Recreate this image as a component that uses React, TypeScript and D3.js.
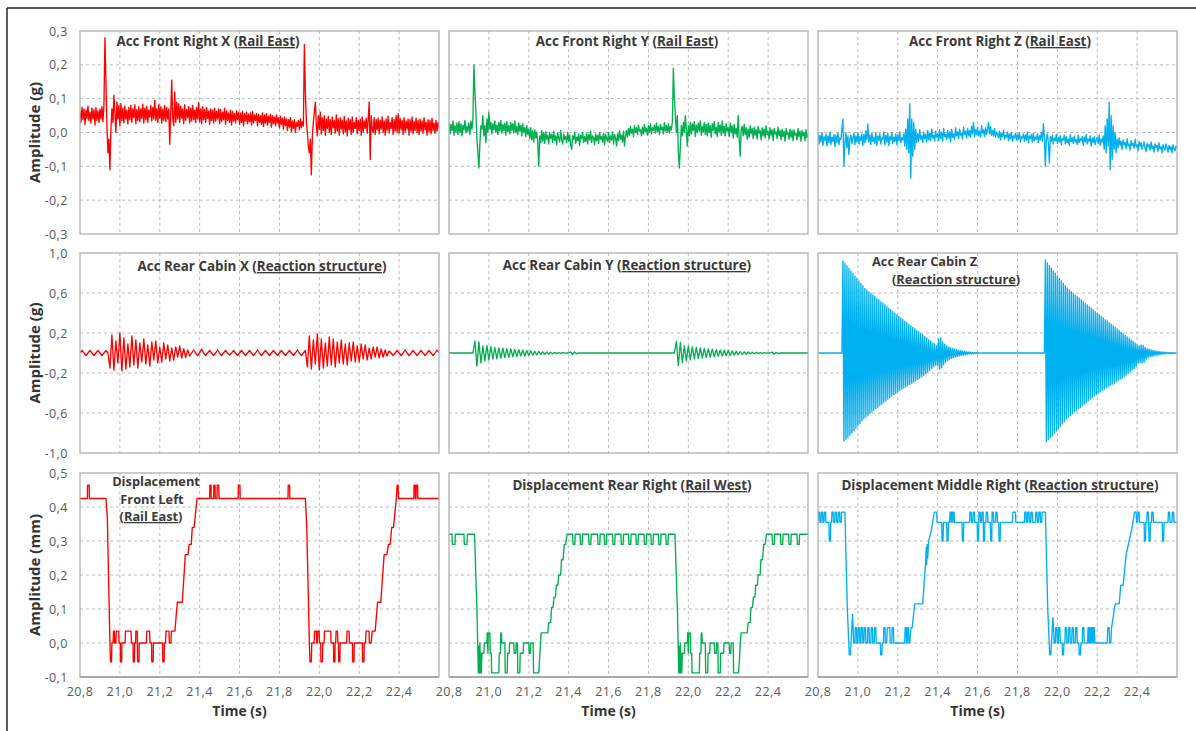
import React from 'react';
import * as d3 from 'd3';

// ================= DATA =================
const SAMPLE_START = 20.8; // s, first acceleration sample
const STEP_FINE = 0.005; // s, sample spacing of the densely plotted accelerometers
const STEP_COARSE = 0.01; // s, sample spacing of the rear-cabin X / Y accelerometers

const xDomain: [number, number] = [20.8, 22.6];
const xTickValues = [20.8, 21.0, 21.2, 21.4, 21.6, 21.8, 22.0, 22.2, 22.4];
const xTickLabels = ['20,8', '21,0', '21,2', '21,4', '21,6', '21,8', '22,0', '22,2', '22,4'];

const yTicksAccFront = [0.3, 0.2, 0.1, 0, -0.1, -0.2, -0.3];
const yLabelsAccFront = ['0,3', '0,2', '0,1', '0,0', '-0,1', '-0,2', '-0,3'];
const yTicksAccRear = [1, 0.6, 0.2, -0.2, -0.6, -1];
const yLabelsAccRear = ['1,0', '0,6', '0,2', '-0,2', '-0,6', '-1,0'];
const yTicksDisp = [0.5, 0.4, 0.3, 0.2, 0.1, 0, -0.1];
const yLabelsDisp = ['0,5', '0,4', '0,3', '0,2', '0,1', '0,0', '-0,1'];

// Front-right accelerations in milli-g, one sample every 0.005 s from 20.80 s
const accFrontRightX = [
  62, 30, 75, 38, 70, 24, 66, 42, 78, 35, 60, 28, 72, 40, 68, 22, 74, 36, 64, 30,
  70, 40, 76, 32, 80, 280, 150, 20, -60, -20, -110, 10, 70, 30, 110, 60, 0, 90, 40, 80,
  20, 85, 35, 72, 28, 78, 40, 66, 25, 74, 38, 80, 30, 70, 44, 82, 26, 68, 36, 76,
  32, 70, 42, 84, 28, 72, 38, 78, 30, 66, 46, 80, 34, 74, 40, 95, 36, 70, 30, 82,
  42, 76, 28, 70, 36, 80, 32, 74, 40, 70, -35, 60, 155, 40, 20, 120, 30, 90, 40, 85,
  30, 78, 42, 70, 26, 82, 36, 68, 44, 76, 28, 72, 34, 80, 38, 66, 30, 74, 40, 88,
  32, 70, 26, 76, 38, 68, 30, 74, 42, 64, 24, 70, 36, 66, 28, 72, 34, 62, 40, 70,
  26, 68, 32, 60, 38, 72, 24, 64, 36, 58, 30, 66, 22, 62, 34, 56, 28, 64, 38, 60,
  24, 58, 30, 62, 20, 56, 34, 60, 26, 54, 32, 58, 22, 62, 28, 52, 36, 56, 20, 54,
  30, 50, 24, 58, 18, 52, 28, 56, 22, 48, 30, 54, 16, 50, 26, 46, 20, 52, 28, 44,
  14, 48, 24, 42, 10, 46, 20, 40, 6, 38, 16, 44, 2, 34, 12, 38, 0, 30, 18, 36,
  8, 40, 14, 32, 20, 260, 120, 30, 0, -40, -60, -20, -125, -10, 30, 60, 90, 20, -10, 50,
  10, 60, -5, 44, 6, 50, -8, 40, 12, 48, 0, 38, -6, 46, 14, 36, -2, 52, 4, 40,
  -8, 44, 10, 36, -4, 48, 2, 34, -10, 42, 8, 38, -6, 46, 0, 30, 12, 44, -4, 36,
  6, 40, -8, 46, 2, 34, 12, 42, -2, 40, 90, -80, 50, 10, 0, 44, -6, 38, 8, 42,
  -4, 36, 10, 46, 0, 34, -8, 40, 6, 48, -2, 30, 12, 44, -6, 38, 4, 50, 0, 55,
  -2, 42, 8, 36, -6, 44, 2, 34, 10, 40, -8, 38, 4, 46, -4, 32, 6, 42, 0, 36,
  -6, 40, 4, 34, -2, 44, 8, 30, -8, 38, 2, 36, -4, 42, 6, 28, -2, 36, 4, 30, 14,
];

const accFrontRightY = [
  30, -4, 24, 6, 34, -8, 20, 2, 28, -6, 32, 0, 26, -10, 22, 8, 36, -2, 18, 4,
  28, -6, 34, 10, 40, 200, 120, 60, -20, -60, -105, -30, 20, 10, 50, -10, 20, -30, 40, 0,
  60, 10, 30, -4, 26, 8, 34, 0, 22, -6, 30, 4, 36, -2, 24, 6, 28, -8, 32, 2,
  20, -4, 30, 6, 26, -2, 34, 0, 18, -6, 28, 4, 22, -10, 26, 0, 14, -12, 20, -6,
  10, -18, 14, -22, 6, -28, 8, -16, 2, -30, -100, -10, -30, 6, -26, 0, -32, 2, -20, -8,
  -34, 0, -18, -6, -30, 4, -24, -10, -36, -2, -16, -28, 6, -22, -34, -4, -20, -12, -30, 0,
  -26, -8, -36, -50, -10, -20, 2, -32, -14, -24, -4, -38, -8, -18, 0, -30, -12, -26, -2, -34,
  -6, -22, 4, -30, -10, -16, -36, -4, -24, -8, -32, 0, -20, -12, -28, -2, -36, -6, -18, -26,
  0, -30, -10, -22, 2, -34, -6, -16, -40, -4, -24, 6, -20, -8, -28, 4, -40, -10, 6, -14,
  12, -8, 18, -2, 10, -12, 20, 0, 14, -6, 22, 4, 8, -10, 16, -4, 24, 2, 12, -8,
  20, 0, 26, -4, 14, 6, 22, -2, 28, 2, 18, -6, 24, 8, 16, -4, 30, 4, 20, 0,
  26, -2, 18, 8, 32, 190, 100, 50, 0, 50, -60, -105, -40, 20, -10, 30, 0, 50, 10, -40,
  20, -10, 30, -4, 26, 6, 32, -12, 22, 0, 28, 4, 34, -8, 18, 2, 30, -6, 24, -10,
  28, 0, 20, -14, 26, 6, 32, -4, 16, -12, 30, 2, 22, -8, 34, -2, 18, -10, 26, 4,
  14, -12, 28, 0, 20, -16, 24, -4, 12, -14, 50, -20, -70, 10, 18, -10, 24, -6, 14, -20,
  10, -14, 20, -4, 12, -18, 16, -8, 8, -20, 18, -2, 6, -22, 14, -10, 10, -16, 20, -6,
  4, -20, 14, -8, 8, -24, 12, -4, 2, -18, 16, -10, 6, -22, 10, -12, 4, -26, 12, -6,
  0, -20, 10, -14, 6, -24, 8, -8, -2, -22, 12, -12, 4, -26, 6, -10, 0, -24, 8, -16, -4,
];

const accFrontRightZ = [
  -2, -34, -8, -28, 0, -38, -12, -24, -4, -40, -10, -30, 2, -36, -14, -26, -6, -42, -8, -30,
  -2, -36, -16, -20, 10, 40, -100, -30, 0, -45, -10, -65, -20, -8, -32, -14, -2, -36, -10, -28,
  0, -34, -12, -24, -4, -38, -6, -30, 5, -22, 25, -28, -8, -36, -2, -26, -14, -32, 0, -38,
  -10, -24, -4, -34, -16, -20, 2, -36, -8, -28, -2, -38, -12, -22, 0, -32, -14, -26, -4, -36,
  -8, -24, 2, -30, -16, -22, -4, -40, 10, -50, 40, -60, 85, -135, 40, -70, 30, -50, 10, -30,
  -4, -26, 8, -20, -10, -30, 2, -18, -6, -28, 6, -22, -2, -24, 10, -16, -8, -26, 4, -14,
  -4, -24, 8, -18, 0, -26, 12, -12, -6, -22, 6, -16, 2, -28, 10, -14, -4, -20, 14, -10,
  2, -18, 10, -8, -2, -20, 16, -6, 4, -16, 12, -10, 6, -14, 18, -4, 30, -12, 8, -6,
  16, -10, 4, -14, 20, -2, 8, -12, 14, -6, 10, 30, -4, 18, -8, 6, -10, 12, -14, 2,
  -6, -16, 4, -22, -2, -12, 6, -20, -8, -14, 2, -24, -4, -18, 0, -26, -10, -16, -2, -22,
  -6, -20, 0, -28, -12, -16, -4, -26, -8, -22, 2, -30, -10, -18, -6, -28, -2, -24, -14, -20,
  -4, -30, -10, -22, 0, -26, 25, -10, -100, -20, -4, -30, -90, -12, -26, -8, -34, -16, -24, -6,
  -32, -14, -28, -10, -36, -18, -22, -8, -34, -12, -30, -20, -38, -6, -26, -16, -32, -10, -28, -22,
  -36, -8, -30, -18, -24, -12, -38, -14, -28, -6, -34, -20, -26, -10, -40, -16, -30, -12, -36, -22,
  -14, -32, -8, -38, -20, -28, -10, -50, 20, -60, 40, -40, 90, -110, 50, -80, 20, -50, 0, -60,
  -20, -45, -15, -38, -26, -50, -22, -36, -30, -48, -18, -40, -34, -52, -24, -38, -32, -46, -20, -42,
  -36, -54, -26, -40, -30, -50, -38, -28, -46, -56, -32, -42, -36, -52, -28, -48, -40, -58, -34, -44,
  -38, -56, -30, -48, -42, -60, -36, -46, -52, -34, -44, -58, -38, -50, -42, -60, -36, -48, -54, -40, -46,
];

// Rear-cabin X / Y accelerations in milli-g, one sample every 0.01 s from 20.80 s
const accRearCabinX = [
  0, 25, 0, -25, 0, 25, 0, -25, 0, 25, 0, -25, 0, 25, 0,
  -150, 180, -170, 120, -100, 200, -180, 150, -160, 90,
  -140, 170, -120, 130, -150, 100, -90, 140, -110, 80,
  -130, 110, -70, 120, -100, 60, -90, 100, -60, 80,
  -80, 50, -70, 60, -40, 70, -50, 40, -45, 30, -30,
  0, 30, 0, -25, 0, 40, 0, -25, 0, 25, 0, -25, 0, 30,
  0, -25, 0, 25, 0, -20, 0, 25, 0, -25, 0, 25, 0, -25,
  0, 25, 0, -25, 0, 30, 0, -25, 0, 25, 0, -25, 0, 25,
  0, -25, 0, 25, 0, -25, 0, 25, 0, -25, 0, 30, 0, -25, 0, 25,
  -140, 170, -160, 130, -110, 190, -170, 140, -150, 100,
  -130, 160, -120, 140, -140, 110, -100, 130, -110, 90,
  -120, 100, -80, 110, -90, 70, -90, 90, -60, 80,
  -70, 50, -60, 60, -40, 60, -50, 40, -40, 30, -30, 20,
  0, -25, 0, 25, 0, -25, 0, 30, 0, -25, 0, 25,
  0, -25, 0, 25, 0, -25, 0, 25, 0, -25, 0, 30, 0,
];

const accRearCabinY = [
  0, 0, 0, 0, 0, 0, 0, 0, 0, 0, 0, 0, 0,
  120, -130, 110, -100, 70, -80, 75, -70, 65, -60,
  55, -58, 50, -52, 48, -45, 42, -44, 40, -38,
  35, -36, 32, -30, 28, -30, 26, -25, 22, -22,
  18, -20, 16, -15, 12, -13, 10, -10, 8, -8,
  6, -6, 4, -4, 3, -2,
  0, 0, 12, -15, 10, -8, 0,
  0, 0, 0, 0, 0, 0, 0, 0, 0, 0, 0, 0, 0, 0, 0, 0,
  0, 0, 0, 0, 0, 0, 0, 0, 0, 0, 0, 0, 0, 0, 0, 0,
  0, 0, 0, 0, 0, 0, 0, 0, 0, 0, 0, 0, 0, 0, 0, 0,
  115, -125, 105, -95, 72, -78, 70, -68, 62, -60,
  56, -55, 50, -50, 46, -46, 42, -40, 38, -38,
  34, -34, 30, -30, 28, -27, 25, -24, 21, -21,
  18, -18, 15, -15, 12, -12, 10, -10, 8, -7,
  6, -6, 4, -4, 3, -2, 0,
  0, 10, -12, 8, -5, 0,
  0, 0, 0, 0, 0, 0, 0, 0, 0, 0, 0, 0, 0, 0,
];

// Rear-cabin Z acceleration in milli-g, one sample every 0.005 s from 20.80 s
const accRearCabinZ = [
  0, 0, 0, 0, 0, 0, 0, 0, 0, 0, 0, 0, 0, 0, 0, 0, 0, 0, 0, 0, 0, 0, 0, 0, 0,
  920, -880, 895, -862, 872, -845, 846, -822, 820, -800, 797, -776, 770, -752, 746, -728,
  721, -704, 696, -680, 672, -658, 646, -640,
  630, -622, 612, -606, 598, -590, 578, -574, 565, -558, 546, -542, 532, -526, 512, -510,
  499, -494, 480, -478, 466, -462, 447, -446, 433, -430, 414, -416, 400, -402, 381, -388, 366, -374,
  350, -362, 336, -350, 318, -338, 305, -326, 287, -314, 274, -302, 256, -290, 243, -278,
  225, -266, 212, -252, 194, -238, 181, -222, 163, -206, 150, -190, 132, -172, 119, -156, 100, -138,
  90, -122, 70, -128, 140, -160, 150, -148, 112, -118, 88, -92, 70, -74, 60, -62, 52, -54,
  45, -46, 40, -40, 34, -34, 28, -28, 24, -24, 20, -20, 16, -16, 13, -13, 10, -10, 8, -8,
  6, -6, 4, -4, 3, -3, 2, -2, 1, -1, 0, 0, 0, 0, 0, 0,
  0, 0, 0, 0, 0, 0, 0, 0, 0, 0, 0, 0, 0, 0, 0, 0, 0, 0, 0, 0,
  0, 0, 0, 0, 0, 0, 0, 0, 0, 0, 0, 0, 0, 0, 0, 0, 0, 0, 0, 0,
  0, 0, 0, 0, 0, 0, 0, 0, 0, 0, 0, 0, 0, 0, 0, 0, 0,
  930, -885, 900, -866, 874, -846, 850, -826, 822, -802, 798, -780, 772, -756, 748, -730,
  722, -706, 698, -684, 674, -660, 650, -642,
  632, -624, 614, -608, 596, -590, 580, -576, 562, -558, 548, -544, 530, -526, 514, -512,
  498, -494, 482, -480, 464, -462, 450, -448, 432, -432, 416, -418, 398, -402, 384, -390, 366, -374,
  352, -362, 334, -350, 320, -338, 302, -326, 288, -314, 270, -302, 256, -290, 240, -278,
  226, -266, 208, -252, 194, -238, 178, -222, 162, -206, 148, -190, 130, -172, 116, -156, 98, -138,
  82, -100, 70, -96, 80, -100, 76, -92, 56, -60, 44, -46, 38, -40, 32, -34, 26, -28, 22, -24,
  18, -20, 15, -16, 12, -13, 10, -10, 8, -8, 6, -6, 5, -5, 4, -4, 3, -3, 2, -2, 1,
];

// Displacement breakpoints: [time (s), displacement (mm)]
const dispFrontLeft: [number, number][] = [
  [20.8, 0.425], [20.837, 0.425], [20.838, 0.464], [20.846, 0.464], [20.847, 0.425],
  [20.93, 0.425], [20.937, 0.37], [20.95, 0], [20.953, -0.055], [20.958, -0.055], [20.96, 0],
  [20.966, 0], [20.968, 0.035], [20.972, 0.035], [20.974, 0], [20.98, 0], [20.982, 0.035],
  [20.994, 0.035], [20.996, 0], [21.002, 0], [21.003, -0.055], [21.009, -0.055], [21.01, 0],
  [21.026, 0], [21.028, 0.035], [21.056, 0.035], [21.058, 0], [21.066, 0], [21.067, -0.055],
  [21.073, -0.055], [21.074, 0], [21.079, 0], [21.08, 0.035], [21.087, 0.035], [21.089, -0.055],
  [21.096, -0.055], [21.097, 0], [21.133, 0], [21.135, 0.035], [21.149, 0.035], [21.151, 0],
  [21.159, 0], [21.16, -0.055], [21.167, -0.055], [21.168, 0], [21.214, 0], [21.215, -0.055],
  [21.222, -0.055], [21.223, 0], [21.229, 0], [21.231, 0.035], [21.246, 0.035], [21.248, 0],
  [21.256, 0], [21.258, 0.035], [21.276, 0.035], [21.288, 0.12], [21.313, 0.12], [21.328, 0.26],
  [21.342, 0.26], [21.347, 0.29], [21.358, 0.29], [21.363, 0.34], [21.372, 0.34], [21.387, 0.425],
  [21.45, 0.425], [21.451, 0.464], [21.457, 0.464], [21.458, 0.425], [21.47, 0.425], [21.471, 0.464],
  [21.477, 0.464], [21.478, 0.425], [21.487, 0.425], [21.488, 0.464], [21.496, 0.464], [21.497, 0.425],
  [21.593, 0.425], [21.594, 0.464], [21.602, 0.464], [21.603, 0.425], [21.843, 0.425], [21.844, 0.464],
  [21.851, 0.464], [21.852, 0.425],
  [21.93, 0.425], [21.937, 0.34], [21.95, 0], [21.953, -0.055], [21.96, -0.055], [21.962, 0],
  [21.974, 0], [21.976, 0.035], [21.985, 0.035], [21.987, 0], [21.99, 0], [21.992, 0.035],
  [21.999, 0.035], [22.001, 0], [22.007, 0], [22.008, -0.055], [22.016, -0.055], [22.017, 0],
  [22.024, 0], [22.026, 0.035], [22.057, 0.035], [22.059, 0], [22.071, 0], [22.072, -0.055],
  [22.078, -0.055], [22.079, 0], [22.082, 0], [22.084, 0.035], [22.091, 0.035], [22.093, 0],
  [22.096, 0], [22.097, -0.055], [22.103, -0.055], [22.104, 0], [22.137, 0], [22.139, 0.035],
  [22.149, 0.035], [22.151, 0], [22.166, 0], [22.167, -0.055], [22.174, -0.055], [22.175, 0],
  [22.216, 0], [22.217, -0.055], [22.224, -0.055], [22.225, 0], [22.232, 0], [22.234, 0.035],
  [22.249, 0.035], [22.251, 0], [22.26, 0], [22.265, 0.035], [22.28, 0.035], [22.292, 0.12],
  [22.308, 0.12], [22.325, 0.26], [22.338, 0.26], [22.347, 0.29], [22.355, 0.29], [22.363, 0.34],
  [22.372, 0.34], [22.386, 0.425], [22.39, 0.464], [22.395, 0.464], [22.397, 0.425],
  [22.474, 0.425], [22.475, 0.464], [22.481, 0.464], [22.482, 0.425], [22.485, 0.425], [22.486, 0.464],
  [22.493, 0.464], [22.494, 0.425], [22.6, 0.425],
];

const dispRearRight: [number, number][] = [
  [20.8, 0.32], [20.815, 0.32], [20.817, 0.29], [20.83, 0.29], [20.832, 0.32], [20.875, 0.32],
  [20.877, 0.29], [20.89, 0.29], [20.892, 0.32], [20.928, 0.32], [20.94, 0.1], [20.945, -0.03],
  [20.947, -0.088], [20.95, -0.01], [20.952, -0.088], [20.955, 0], [20.957, -0.088], [20.96, -0.03],
  [20.962, -0.088], [20.965, -0.03], [20.975, -0.03], [20.977, 0], [20.99, 0], [20.992, 0.03],
  [20.995, -0.03], [20.997, 0.03], [21.005, 0.03], [21.007, -0.03], [21.012, -0.03], [21.014, -0.088],
  [21.05, -0.088], [21.052, -0.03], [21.058, -0.03], [21.06, 0.03], [21.063, 0.03], [21.065, 0],
  [21.08, 0], [21.082, -0.088], [21.092, -0.088], [21.094, -0.03], [21.102, -0.03], [21.104, 0],
  [21.125, 0], [21.127, -0.03], [21.135, -0.03], [21.137, 0], [21.143, 0], [21.145, -0.088],
  [21.155, -0.088], [21.157, -0.03], [21.172, -0.03], [21.174, 0], [21.2, 0], [21.202, -0.03],
  [21.208, -0.03], [21.21, 0], [21.222, 0], [21.224, -0.088], [21.25, -0.088], [21.262, 0.03],
  [21.295, 0.03], [21.3, 0.06], [21.31, 0.06], [21.314, 0.105], [21.322, 0.105], [21.326, 0.135],
  [21.334, 0.135], [21.338, 0.17], [21.346, 0.17], [21.35, 0.2], [21.36, 0.2], [21.364, 0.245],
  [21.372, 0.245], [21.378, 0.29], [21.385, 0.29], [21.392, 0.32],
  [21.42, 0.32], [21.422, 0.29], [21.431, 0.29], [21.433, 0.32],
  [21.457, 0.32], [21.459, 0.29], [21.468, 0.29], [21.47, 0.32],
  [21.5, 0.32], [21.502, 0.29], [21.511, 0.29], [21.513, 0.32],
  [21.545, 0.32], [21.547, 0.29], [21.556, 0.29], [21.558, 0.32],
  [21.578, 0.32], [21.58, 0.29], [21.589, 0.29], [21.591, 0.32],
  [21.62, 0.32], [21.622, 0.29], [21.631, 0.29], [21.633, 0.32],
  [21.662, 0.32], [21.664, 0.29], [21.673, 0.29], [21.675, 0.32],
  [21.7, 0.32], [21.702, 0.29], [21.711, 0.29], [21.713, 0.32],
  [21.737, 0.32], [21.739, 0.29], [21.748, 0.29], [21.75, 0.32],
  [21.778, 0.32], [21.78, 0.29], [21.789, 0.29], [21.791, 0.32],
  [21.812, 0.32], [21.814, 0.29], [21.823, 0.29], [21.825, 0.32],
  [21.85, 0.32], [21.852, 0.29], [21.861, 0.29], [21.863, 0.32],
  [21.887, 0.32], [21.889, 0.29], [21.898, 0.29], [21.9, 0.32],
  [21.933, 0.32], [21.945, 0.1], [21.95, -0.03], [21.952, -0.088], [21.955, -0.01], [21.957, -0.088],
  [21.96, 0], [21.962, -0.088], [21.965, -0.03], [21.967, -0.088], [21.97, -0.03], [21.98, -0.03],
  [21.982, 0], [21.995, 0], [21.997, 0.03], [22.0, -0.03], [22.002, 0.03], [22.01, 0.03],
  [22.012, -0.03], [22.017, -0.03], [22.019, -0.088], [22.055, -0.088], [22.057, -0.03], [22.063, -0.03],
  [22.065, 0.03], [22.068, 0.03], [22.07, 0], [22.085, 0], [22.087, -0.088], [22.097, -0.088],
  [22.099, -0.03], [22.107, -0.03], [22.109, 0], [22.13, 0], [22.132, -0.03], [22.14, -0.03],
  [22.142, 0], [22.148, 0], [22.15, -0.088], [22.16, -0.088], [22.162, -0.03], [22.177, -0.03],
  [22.179, 0], [22.205, 0], [22.207, -0.03], [22.213, -0.03], [22.215, 0], [22.225, 0],
  [22.227, -0.088], [22.252, -0.088], [22.264, 0.03], [22.295, 0.03], [22.3, 0.06], [22.31, 0.06],
  [22.314, 0.105], [22.322, 0.105], [22.326, 0.135], [22.334, 0.135], [22.338, 0.17], [22.346, 0.17],
  [22.35, 0.2], [22.36, 0.2], [22.364, 0.245], [22.372, 0.245], [22.378, 0.29], [22.385, 0.29],
  [22.392, 0.32],
  [22.42, 0.32], [22.422, 0.29], [22.431, 0.29], [22.433, 0.32],
  [22.462, 0.32], [22.464, 0.29], [22.473, 0.29], [22.475, 0.32],
  [22.503, 0.32], [22.505, 0.29], [22.514, 0.29], [22.516, 0.32],
  [22.545, 0.32], [22.547, 0.29], [22.556, 0.29], [22.558, 0.32], [22.6, 0.32],
];

const dispMiddleRight: [number, number][] = [
  [20.8, 0.355], [20.802, 0.385], [20.808, 0.385], [20.81, 0.355], [20.815, 0.355], [20.817, 0.385],
  [20.823, 0.385], [20.825, 0.355], [20.83, 0.355], [20.832, 0.385], [20.838, 0.385], [20.84, 0.355],
  [20.855, 0.355], [20.857, 0.3], [20.862, 0.3], [20.864, 0.355], [20.868, 0.355], [20.87, 0.385],
  [20.876, 0.385], [20.878, 0.355], [20.884, 0.355], [20.886, 0.385], [20.892, 0.385], [20.894, 0.355],
  [20.9, 0.355], [20.902, 0.385], [20.908, 0.385], [20.91, 0.355], [20.916, 0.355], [20.918, 0.385],
  [20.935, 0.385], [20.947, 0.1], [20.957, -0.035], [20.962, -0.035], [20.97, 0.045], [20.973, 0.085],
  [20.976, 0.045], [20.979, 0], [20.985, 0], [20.987, 0.045], [20.993, 0.045], [20.995, 0],
  [21.0, 0], [21.002, 0.045], [21.008, 0.045], [21.01, 0], [21.015, 0], [21.017, 0.045],
  [21.023, 0.045], [21.025, 0], [21.03, 0], [21.032, 0.045], [21.038, 0.045], [21.04, 0],
  [21.048, 0], [21.05, 0.045], [21.056, 0.045], [21.058, 0], [21.065, 0], [21.067, 0.045],
  [21.073, 0.045], [21.075, 0], [21.082, 0], [21.084, 0.045], [21.09, 0.045], [21.092, 0],
  [21.112, 0], [21.114, -0.035], [21.12, -0.035], [21.122, 0], [21.128, 0], [21.13, 0.045],
  [21.136, 0.045], [21.138, 0], [21.145, 0], [21.147, 0.045], [21.16, 0.045], [21.162, 0],
  [21.17, 0], [21.172, 0.045], [21.178, 0.045], [21.18, 0], [21.235, 0], [21.237, 0.045],
  [21.242, 0.045], [21.244, 0], [21.247, 0], [21.249, 0.045], [21.254, 0.045], [21.256, 0],
  [21.26, 0], [21.266, 0.045], [21.272, 0.045], [21.285, 0.115], [21.325, 0.115], [21.34, 0.24],
  [21.343, 0.28], [21.345, 0.23], [21.347, 0.29], [21.35, 0.25], [21.355, 0.3], [21.368, 0.33],
  [21.383, 0.385], [21.395, 0.385], [21.397, 0.355],
  [21.42, 0.355], [21.422, 0.3], [21.427, 0.3], [21.429, 0.355], [21.445, 0.355], [21.447, 0.3],
  [21.452, 0.3], [21.454, 0.355], [21.46, 0.355], [21.462, 0.385], [21.466, 0.385], [21.468, 0.355],
  [21.47, 0.385], [21.474, 0.385], [21.476, 0.355], [21.478, 0.385], [21.482, 0.385], [21.484, 0.355],
  [21.522, 0.355], [21.524, 0.3], [21.529, 0.3], [21.531, 0.355], [21.56, 0.355], [21.562, 0.385],
  [21.568, 0.385], [21.57, 0.355], [21.576, 0.355], [21.578, 0.385], [21.584, 0.385], [21.586, 0.355],
  [21.598, 0.355], [21.6, 0.3], [21.605, 0.3], [21.607, 0.385], [21.613, 0.385], [21.615, 0.355],
  [21.62, 0.355], [21.622, 0.385], [21.628, 0.385], [21.63, 0.3], [21.635, 0.3], [21.637, 0.355],
  [21.642, 0.355], [21.644, 0.385], [21.65, 0.385], [21.652, 0.355], [21.664, 0.355], [21.666, 0.3],
  [21.671, 0.3], [21.673, 0.385], [21.679, 0.385], [21.681, 0.355], [21.69, 0.355], [21.692, 0.385],
  [21.698, 0.385], [21.7, 0.355], [21.706, 0.355], [21.708, 0.3], [21.713, 0.3], [21.715, 0.355],
  [21.775, 0.355], [21.777, 0.385], [21.79, 0.385], [21.792, 0.355], [21.835, 0.355], [21.837, 0.385],
  [21.843, 0.385], [21.845, 0.355], [21.85, 0.355], [21.852, 0.385], [21.858, 0.385], [21.86, 0.355],
  [21.866, 0.355], [21.868, 0.385], [21.874, 0.385], [21.876, 0.355], [21.89, 0.355], [21.892, 0.385],
  [21.898, 0.385], [21.9, 0.355], [21.906, 0.355], [21.908, 0.385], [21.914, 0.385], [21.916, 0.355],
  [21.922, 0.355], [21.924, 0.385], [21.94, 0.385],
  [21.952, 0.1], [21.962, -0.035], [21.967, -0.035], [21.975, 0.045], [21.978, 0.075], [21.981, 0.045],
  [21.984, 0], [21.99, 0], [21.992, 0.045], [21.998, 0.045], [22.0, 0], [22.005, 0],
  [22.007, 0.045], [22.013, 0.045], [22.015, 0], [22.024, 0], [22.026, -0.035], [22.031, -0.035],
  [22.033, 0], [22.038, 0], [22.04, 0.045], [22.046, 0.045], [22.048, 0], [22.055, 0],
  [22.057, 0.045], [22.063, 0.045], [22.065, 0], [22.072, 0], [22.074, 0.045], [22.08, 0.045],
  [22.082, 0], [22.09, 0], [22.092, 0.045], [22.098, 0.045], [22.1, 0], [22.108, 0],
  [22.11, -0.035], [22.116, -0.035], [22.118, 0], [22.125, 0], [22.127, 0.045], [22.133, 0.045],
  [22.135, 0], [22.152, 0], [22.154, 0.045], [22.157, 0.045], [22.159, 0], [22.161, 0.045],
  [22.164, 0.045], [22.166, 0], [22.168, 0.045], [22.171, 0.045], [22.173, 0], [22.175, 0.045],
  [22.178, 0.045], [22.18, 0], [22.182, 0.045], [22.186, 0.045], [22.188, 0], [22.25, 0],
  [22.253, 0.045], [22.26, 0.045], [22.262, 0], [22.268, 0], [22.272, 0.045], [22.29, 0.115],
  [22.31, 0.115], [22.318, 0.17], [22.33, 0.17], [22.345, 0.26], [22.36, 0.3], [22.375, 0.34],
  [22.387, 0.385], [22.395, 0.385], [22.397, 0.355], [22.402, 0.355], [22.404, 0.385], [22.41, 0.385],
  [22.412, 0.355], [22.435, 0.355], [22.437, 0.3], [22.442, 0.3], [22.444, 0.355], [22.448, 0.355],
  [22.45, 0.385], [22.456, 0.385], [22.458, 0.355], [22.46, 0.3], [22.465, 0.3], [22.467, 0.355],
  [22.472, 0.355], [22.474, 0.385], [22.48, 0.385], [22.482, 0.355], [22.526, 0.355], [22.528, 0.3],
  [22.533, 0.3], [22.535, 0.355], [22.555, 0.355], [22.557, 0.385], [22.563, 0.385], [22.565, 0.355],
  [22.575, 0.355], [22.577, 0.385], [22.583, 0.385], [22.585, 0.355], [22.6, 0.355],
];

// ================= LAYOUT / STYLE =================
const RED = '#ff0000';
const GREEN = '#00b050';
const BLUE = '#00b0f0';
const COL_X = [80, 449, 818];
const PLOT_W = 359;
const TITLE_SIZE = 13.4;
const STACKED_TITLE_SIZE = 12.8;

type Seg = { t: string; u?: boolean };
type TitleLine = { x: number; y: number; anchor: 'middle' | 'start'; segs: Seg[] };

const rows = [
  { y0: 31, h: 203, domain: [-0.3, 0.3] as [number, number], ticks: yTicksAccFront, labels: yLabelsAccFront, axisTitle: 'Amplitude (g)' },
  { y0: 253, h: 200, domain: [-1, 1] as [number, number], ticks: yTicksAccRear, labels: yLabelsAccRear, axisTitle: 'Amplitude (g)' },
  { y0: 473, h: 204, domain: [-0.1, 0.5] as [number, number], ticks: yTicksDisp, labels: yLabelsDisp, axisTitle: 'Amplitude (mm)' },
];

const fromSamples = (mg: number[], step: number): [number, number][] =>
  mg.map((v, i) => [SAMPLE_START + i * step, v / 1000]);

const panels: { row: number; col: number; color: string; pts: [number, number][]; title: TitleLine[] }[] = [
  { row: 0, col: 0, color: RED, pts: fromSamples(accFrontRightX, STEP_FINE),
    title: [{ x: 208, y: 46, anchor: 'middle', segs: [{ t: 'Acc Front Right X (' }, { t: 'Rail East', u: true }, { t: ')' }] }] },
  { row: 0, col: 1, color: GREEN, pts: fromSamples(accFrontRightY, STEP_FINE),
    title: [{ x: 627, y: 46, anchor: 'middle', segs: [{ t: 'Acc Front Right Y (' }, { t: 'Rail East', u: true }, { t: ')' }] }] },
  { row: 0, col: 2, color: BLUE, pts: fromSamples(accFrontRightZ, STEP_FINE),
    title: [{ x: 1000, y: 46, anchor: 'middle', segs: [{ t: 'Acc Front Right Z (' }, { t: 'Rail East', u: true }, { t: ')' }] }] },
  { row: 1, col: 0, color: RED, pts: fromSamples(accRearCabinX, STEP_COARSE),
    title: [{ x: 262, y: 271, anchor: 'middle', segs: [{ t: 'Acc Rear Cabin X (' }, { t: 'Reaction structure', u: true }, { t: ')' }] }] },
  { row: 1, col: 1, color: GREEN, pts: fromSamples(accRearCabinY, STEP_COARSE),
    title: [{ x: 627, y: 270, anchor: 'middle', segs: [{ t: 'Acc Rear Cabin Y (' }, { t: 'Reaction structure', u: true }, { t: ')' }] }] },
  { row: 1, col: 2, color: BLUE, pts: fromSamples(accRearCabinZ, STEP_FINE),
    title: [
      { x: 872, y: 266, anchor: 'start', segs: [{ t: 'Acc Rear Cabin Z' }] },
      { x: 892, y: 284, anchor: 'start', segs: [{ t: '(' }, { t: 'Reaction structure', u: true }, { t: ')' }] },
    ] },
  { row: 2, col: 0, color: RED, pts: dispFrontLeft,
    title: [
      { x: 156, y: 486, anchor: 'middle', segs: [{ t: 'Displacement' }] },
      { x: 152, y: 503.5, anchor: 'middle', segs: [{ t: 'Front Left' }] },
      { x: 151, y: 521, anchor: 'middle', segs: [{ t: '(' }, { t: 'Rail East', u: true }, { t: ')' }] },
    ] },
  { row: 2, col: 1, color: GREEN, pts: dispRearRight,
    title: [{ x: 632, y: 490, anchor: 'middle', segs: [{ t: 'Displacement Rear Right (' }, { t: 'Rail West', u: true }, { t: ')' }] }] },
  { row: 2, col: 2, color: BLUE, pts: dispMiddleRight,
    title: [{ x: 1000, y: 490, anchor: 'middle', segs: [{ t: 'Displacement Middle Right (' }, { t: 'Reaction structure', u: true }, { t: ')' }] }] },
];

const FONT = "'Open Sans', Lato, 'DejaVu Sans', sans-serif";

function Panel({ p, idx }: { p: (typeof panels)[number]; idx: number }) {
  const r = rows[p.row];
  const x0 = COL_X[p.col];
  const x = d3.scaleLinear().domain(xDomain).range([x0, x0 + PLOT_W]);
  const y = d3.scaleLinear().domain(r.domain).range([r.y0 + r.h, r.y0]);
  const line = d3.line<[number, number]>().x((d) => x(d[0])).y((d) => y(d[1]));
  const clipId = `clip-${idx}`;
  const [dMin, dMax] = r.domain;
  const titleSize = p.title.length > 1 ? STACKED_TITLE_SIZE : TITLE_SIZE;
  return (
    <g>
      <defs>
        <clipPath id={clipId}>
          <rect x={x0} y={r.y0 - 1} width={PLOT_W} height={r.h + 2} />
        </clipPath>
      </defs>
      <rect x={x0} y={r.y0} width={PLOT_W} height={r.h} fill="#fff" />
      {xTickValues.slice(1).map((t) => (
        <line key={'v' + t} x1={x(t)} x2={x(t)} y1={r.y0} y2={r.y0 + r.h}
          stroke="#bcbcbc" strokeWidth={1} strokeDasharray="3,3" />
      ))}
      {r.ticks.filter((v) => v !== dMin && v !== dMax).map((v) => (
        <line key={'h' + v} x1={x0} x2={x0 + PLOT_W} y1={y(v)} y2={y(v)}
          stroke="#bcbcbc" strokeWidth={1} strokeDasharray="3,3" />
      ))}
      <path d={line(p.pts) || ''} fill="none" stroke={p.color} strokeWidth={1.35}
        strokeLinejoin="round" clipPath={`url(#${clipId})`} />
      <rect x={x0} y={r.y0} width={PLOT_W} height={r.h} fill="none" stroke="#b0b0b0" strokeWidth={1.3} />
      {p.row === 2 && (
        <line x1={x0} x2={x0 + PLOT_W} y1={r.y0 + r.h} y2={r.y0 + r.h} stroke="#a8a8a8" strokeWidth={2} />
      )}
      {p.title.map((tl, k) => (
        <text key={k} x={tl.x} y={tl.y} textAnchor={tl.anchor} fontFamily={FONT}
          fontWeight="bold" fontSize={titleSize} fill="#3a3a3a">
          {tl.segs.map((s, j) => (
            <tspan key={j} textDecoration={s.u ? 'underline' : undefined}
              style={s.u ? { textDecoration: 'underline' } : undefined}>{s.t}</tspan>
          ))}
        </text>
      ))}
      {p.col === 0 && r.ticks.map((v, k) => (
        <text key={'yl' + k} x={x0 - 12} y={y(v) + 4.5} textAnchor="end" fontFamily={FONT}
          fontSize={12.5} letterSpacing={0.5} fill="#595959">{r.labels[k]}</text>
      ))}
      {p.col === 0 && (
        <text transform={`translate(40,${r.y0 + r.h / 2}) rotate(-90)`} textAnchor="middle"
          fontFamily={FONT} fontWeight="bold" fontSize={15} fill="#333">{r.axisTitle}</text>
      )}
      {p.row === 2 && xTickValues.map((t, k) => (
        <text key={'xl' + k} x={x(t)} y={r.y0 + r.h + 19} textAnchor="middle" fontFamily={FONT}
          fontSize={12.5} letterSpacing={0.5} fill="#595959">{xTickLabels[k]}</text>
      ))}
      {p.row === 2 && (
        <text x={x(21.6)} y={r.y0 + r.h + 39} textAnchor="middle" fontFamily={FONT}
          fontWeight="bold" fontSize={14} fill="#333">Time (s)</text>
      )}
    </g>
  );
}

export default function App() {
  return (
    <svg width={1196} height={731} style={{ position: 'absolute', left: 0, top: 0, background: '#fff' }}>
      <rect x={0} y={0} width={1196} height={731} fill="#fff" />
      <line x1={7} x2={1196} y1={8} y2={8} stroke="#262626" strokeWidth={1.5} />
      <line x1={7} x2={7} y1={8} y2={731} stroke="#262626" strokeWidth={1.5} />
      {panels.map((p, i) => (
        <Panel key={i} p={p} idx={i} />
      ))}
    </svg>
  );
}
